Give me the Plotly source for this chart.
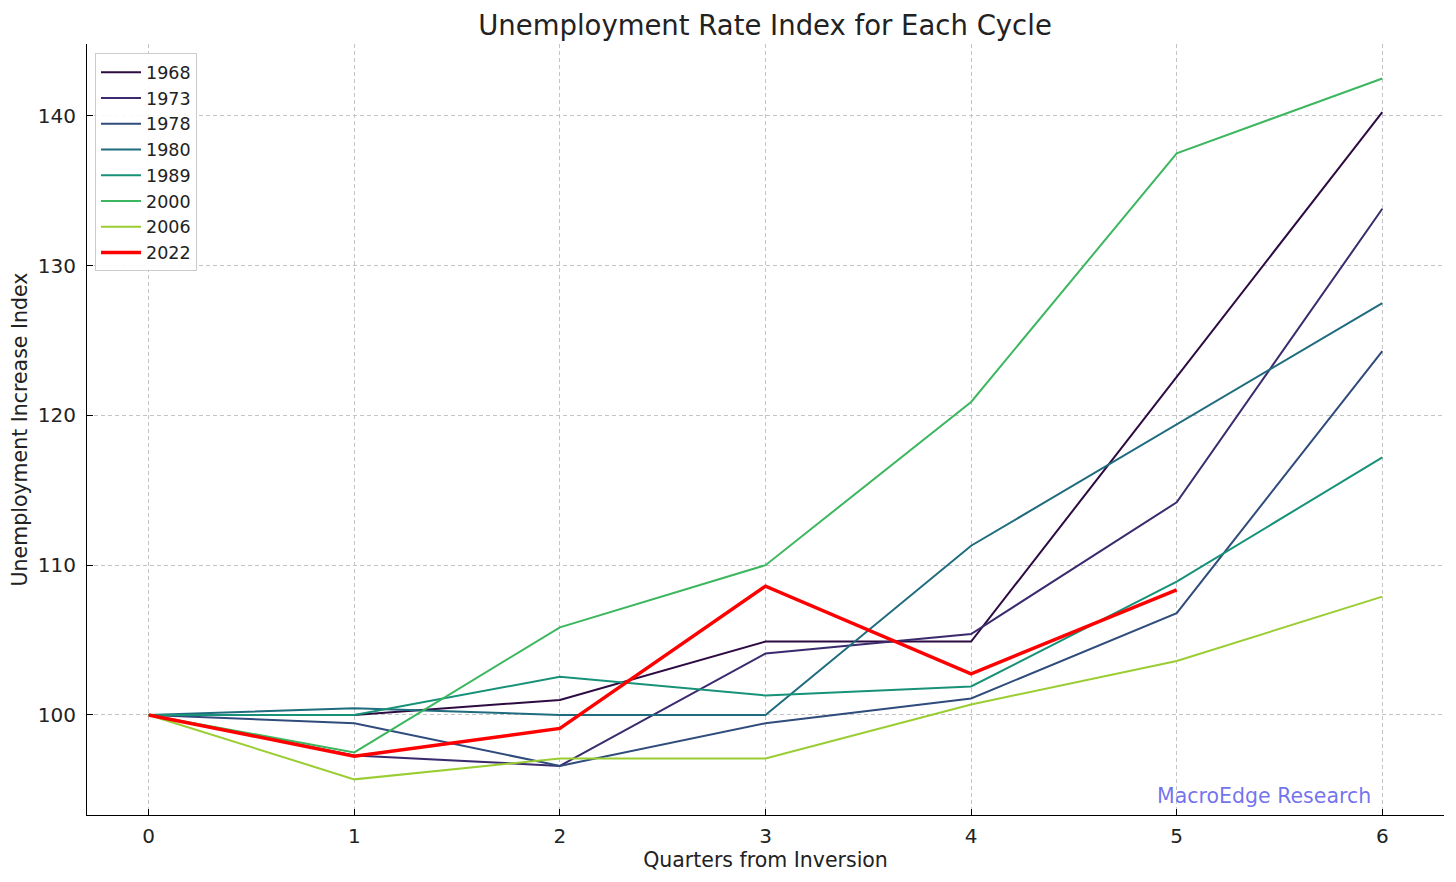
import plotly.graph_objects as go

quarters = [0, 1, 2, 3, 4, 5, 6]
cycles = ["1968", "1973", "1978", "1980", "1989", "2000", "2006"]
s1968 = [100, 100.0, 101.0, 104.9, 104.9, 122.6, 140.25]
s1973 = [100, 97.3, 96.6, 104.1, 105.4, 114.2, 133.8]
s1978 = [100, 99.45, 96.6, 99.45, 101.1, 106.8, 124.3]
s1980 = [100, 100.45, 100.0, 100.0, 111.3, 119.4, 127.5]
s1989 = [100, 100.0, 102.55, 101.3, 101.9, 108.9, 117.2]
s2000 = [100, 97.5, 105.85, 110.0, 120.9, 137.5, 142.5]
s2006 = [100, 95.7, 97.1, 97.1, 100.7, 103.6, 107.9]
quarters_2022 = [0, 1, 2, 3, 4, 5]
s2022 = [100, 97.25, 99.1, 108.6, 102.75, 108.35]

series = [s1968, s1973, s1978, s1980, s1989, s2000, s2006]
colors = ["#2d0b42", "#3b2b6e", "#2f4c7c", "#1f6c7e", "#179279", "#3db75f", "#9acd32"]

fig = go.Figure()
for name, vals, col in zip(cycles, series, colors):
    fig.add_trace(go.Scatter(x=quarters, y=vals, mode="lines", name=name,
                             line=dict(color=col, width=2)))
fig.add_trace(go.Scatter(x=quarters_2022, y=s2022, mode="lines", name="2022",
                         line=dict(color="#ff0000", width=3.5)))

fig.add_annotation(text="MacroEdge Research", xref="paper", yref="paper",
                   x=0.948, y=0.0246, xanchor="right", yanchor="middle",
                   showarrow=False,
                   font=dict(family="DejaVu Sans", size=20.5, color="rgba(90,90,235,0.85)"))

fig.update_layout(
    width=1440, height=866,
    margin=dict(l=79, r=4, t=36, b=59),
    paper_bgcolor="white", plot_bgcolor="white",
    font=dict(family="DejaVu Sans", color="#222222"),
    title=dict(text="Unemployment Rate Index for Each Cycle", x=0.5257, xanchor="center",
               y=0.980, yanchor="middle", font=dict(size=27.5, color="#222222")),
    showlegend=True,
    legend=dict(x=0.0059, y=0.988, xanchor="left", yanchor="top",
                bgcolor="rgba(255,255,255,0.9)", bordercolor="#cccccc", borderwidth=1,
                font=dict(size=17.5, color="#222222"), tracegroupgap=0, itemwidth=40),
)
grid = dict(showgrid=True, gridcolor="#c4c4c4", griddash="4px,3px", gridwidth=0.8)
fig.update_xaxes(range=[-0.3, 6.3], tickvals=quarters, ticktext=[str(q) for q in quarters],
                 showline=True, linecolor="black", linewidth=1.2, mirror=False,
                 ticks="inside", ticklen=6, tickcolor="black", ticklabelstandoff=3,
                 zeroline=False, tickfont=dict(size=20),
                 title=dict(text="Quarters from Inversion", font=dict(size=20.5), standoff=4),
                 **grid)
fig.update_yaxes(range=[93.32, 144.8], tickvals=[100, 110, 120, 130, 140],
                 showline=True, linecolor="black", linewidth=1.2, mirror=False,
                 ticks="inside", ticklen=6, tickcolor="black", ticklabelstandoff=6,
                 zeroline=False, tickfont=dict(size=20),
                 title=dict(text="Unemployment Increase Index", font=dict(size=20.5), standoff=12),
                 **grid)

fig.write_html("out.html")
